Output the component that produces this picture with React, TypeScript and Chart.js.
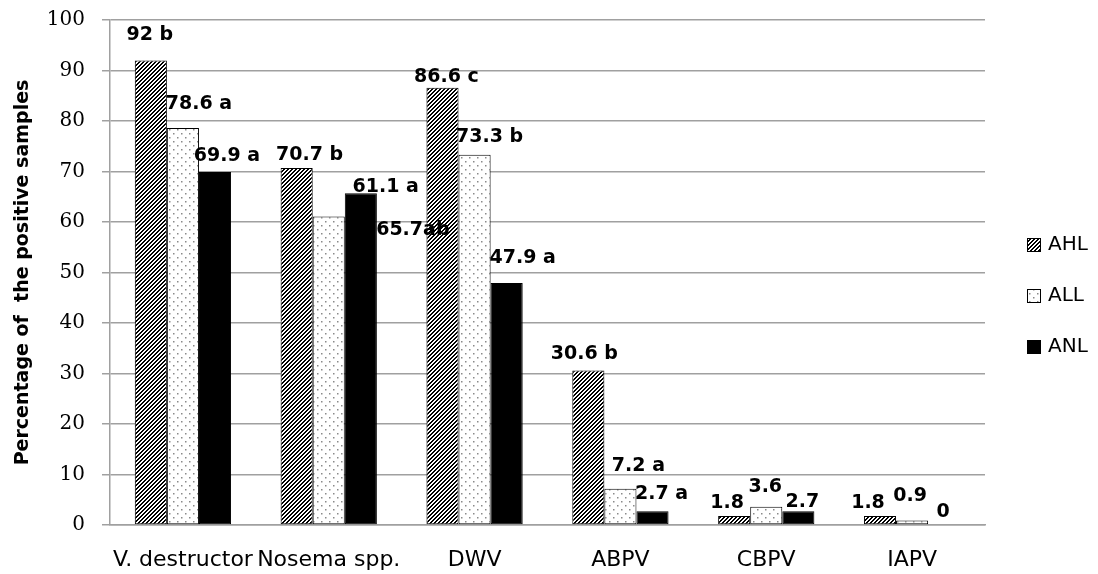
import React, { useEffect, useRef } from "react";
import { Chart, registerables } from "chart.js";

Chart.register(...registerables);

const categories = ["V. destructor", "Nosema spp.", "DWV", "ABPV", "CBPV", "IAPV"];
const seriesNames = ["AHL", "ALL", "ANL"];
const ahlValues = [92, 70.7, 86.6, 30.6, 1.8, 1.8];
const allValues = [78.6, 61.1, 73.3, 7.2, 3.6, 0.9];
const anlValues = [69.9, 65.7, 47.9, 2.7, 2.7, 0];
const ahlLabels = ["92 b", "70.7 b", "86.6 c", "30.6 b", "1.8", "1.8"];
const allLabels = ["78.6 a", "61.1 a", "73.3 b", "7.2 a", "3.6", "0.9"];
const anlLabels = ["69.9 a", "65.7ab", "47.9 a", "2.7 a", "2.7", "0"];
const yMin = 0;
const yMax = 100;
const yStep = 10;
const yTitle = "Percentage of  the positive samples";

// label nudges (layout, px) relative to bar centre / bar top
const LABEL_NUDGE: [number, number][][] = [
  [[-1, -27], [13, -15], [4, -13], [-4, -18], [-7, -15], [-12, -15]],
  [[16, -26], [57, -31], [15, -20], [18, -25], [-1, -22], [-2, -26]],
  [[12, -18], [52, 35], [16, -27], [9, -19], [4, -11], [-1, -15]],
];
const LABEL_BASE_SHIFT = 2;

function makeHatch(): CanvasPattern {
  const c = document.createElement("canvas");
  c.width = 8;
  c.height = 8;
  const ctx = c.getContext("2d")!;
  const img = ctx.createImageData(8, 8);
  for (let y = 0; y < 8; y++) {
    for (let x = 0; x < 8; x++) {
      const on = (x + y) % 4 < 2;
      const i = (y * 8 + x) * 4;
      const v = on ? 0 : 255;
      img.data[i] = v;
      img.data[i + 1] = v;
      img.data[i + 2] = v;
      img.data[i + 3] = 255;
    }
  }
  ctx.putImageData(img, 0, 0);
  return ctx.createPattern(c, "repeat")!;
}

function makeDots(): CanvasPattern {
  const c = document.createElement("canvas");
  c.width = 8;
  c.height = 8;
  const ctx = c.getContext("2d")!;
  ctx.fillStyle = "#ffffff";
  ctx.fillRect(0, 0, 8, 8);
  ctx.fillStyle = "#8a8a8a";
  ctx.fillRect(1, 1, 1.5, 1.5);
  ctx.fillRect(5, 5, 1.5, 1.5);
  return ctx.createPattern(c, "repeat")!;
}

const labelPlugin = {
  id: "barLabels",
  afterDatasetsDraw(chart: any) {
    const ctx = chart.ctx;
    const texts = [ahlLabels, allLabels, anlLabels];
    ctx.save();
    ctx.font = "bold 19px 'DejaVu Sans'";
    ctx.fillStyle = "#000";
    ctx.textAlign = "center";
    ctx.textBaseline = "middle";
    chart.data.datasets.forEach((_: any, i: number) => {
      const meta = chart.getDatasetMeta(i);
      meta.data.forEach((el: any, j: number) => {
        const [dx, dy] = LABEL_NUDGE[i][j];
        ctx.fillText(texts[i][j], el.x + dx, el.y + dy + LABEL_BASE_SHIFT);
      });
    });
    ctx.restore();
  },
};

const legendPlugin = {
  id: "customLegend",
  afterDraw(chart: any) {
    const ctx = chart.ctx;
    const bx = 1027;
    const y0 = 245;
    const gap = 51;
    ctx.save();
    chart.data.datasets.forEach((ds: any, i: number) => {
      const y = y0 + i * gap;
      ctx.fillStyle = ds.backgroundColor;
      ctx.fillRect(bx, y - 7, 14, 14);
      ctx.strokeStyle = "#000";
      ctx.lineWidth = 1;
      ctx.strokeRect(bx + 0.5, y - 6.5, 13, 13);
      ctx.fillStyle = "#000";
      ctx.font = "20px 'DejaVu Sans'";
      ctx.textAlign = "left";
      ctx.textBaseline = "middle";
      ctx.fillText(ds.label, bx + 21, y);
    });
    ctx.restore();
  },
};

export default function App() {
  const ref = useRef<HTMLCanvasElement>(null);
  useEffect(() => {
    const hatch = makeHatch();
    const dots = makeDots();
    const chart = new Chart(ref.current!, {
      type: "bar",
      data: {
        labels: categories,
        datasets: [
          { label: seriesNames[0], data: ahlValues, backgroundColor: hatch as any, borderColor: "#000", borderWidth: 1, borderSkipped: false },
          { label: seriesNames[1], data: allValues, backgroundColor: dots as any, borderColor: "#000", borderWidth: 1, borderSkipped: false },
          { label: seriesNames[2], data: anlValues, backgroundColor: "#000", borderColor: "#000", borderWidth: 1, borderSkipped: false },
        ],
      },
      options: {
        responsive: false,
        animation: false,
        layout: { padding: { left: 0, right: 113, top: 20, bottom: 0 } },
        datasets: { bar: { categoryPercentage: 0.66, barPercentage: 1 } } as any,
        plugins: { legend: { display: false }, tooltip: { enabled: false } },
        scales: {
          x: {
            grid: { display: false },
            border: { display: true, color: "#a0a0a0", width: 1.5 },
            ticks: { font: { family: "DejaVu Sans", size: 22 }, color: "#000", padding: 14, maxRotation: 0, autoSkip: false },
            afterFit: (s: any) => { s.height = 49; s.paddingLeft = 0; s.paddingRight = 0; s.paddingTop = 0; s.paddingBottom = 0; },
          },
          y: {
            min: yMin,
            max: yMax,
            ticks: { stepSize: yStep, font: { family: "DejaVu Serif", size: 20 }, color: "#000", padding: 17 },
            grid: { color: "#a0a0a0", lineWidth: 1.5, tickLength: 8 },
            border: { color: "#a0a0a0", width: 1.5 },
            title: {
              display: true,
              text: yTitle,
              font: { family: "DejaVu Sans", size: 19, weight: "bold" },
              color: "#000",
              padding: { top: 12, bottom: 0 },
            },
            afterFit: (s: any) => { s.width = 110; s.paddingTop = 0; s.paddingBottom = 0; s.paddingLeft = 0; s.paddingRight = 0; },
          },
        },
      },
      plugins: [labelPlugin, legendPlugin],
    });
    return () => chart.destroy();
  }, []);
  return (
    <div style={{ position: "fixed", left: 0, top: 0, width: 1098, height: 574, background: "#fff" }}>
      <canvas ref={ref} width={1098} height={574} style={{ width: 1098, height: 574, display: "block" }} />
    </div>
  );
}
